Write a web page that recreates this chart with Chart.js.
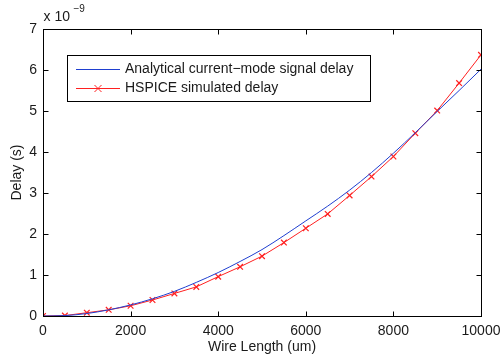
<!DOCTYPE html>
<html>
<head>
<meta charset="utf-8">
<script src="https://cdn.jsdelivr.net/npm/chart.js@4/dist/chart.umd.min.js"></script>
<style>
  html, body { margin: 0; padding: 0; background: #fff; }
  canvas { display: block; }
</style>
</head>
<body>
<canvas id="delayChart" width="503" height="358"></canvas>
<script>
// wire length samples (um)
const wireLength = [0, 500, 1000, 1500, 2000, 2500, 3000, 3500, 4000, 4500, 5000,
                    5500, 6000, 6500, 7000, 7500, 8000, 8500, 9000, 9500, 10000];
// delay values in units of 1e-9 s
const analyticalDelay = [0, 0.01, 0.06, 0.15, 0.27, 0.42, 0.60, 0.82, 1.06, 1.33, 1.62,
                         1.96, 2.32, 2.68, 3.07, 3.50, 3.97, 4.47, 4.99, 5.50, 6.02];
const hspiceDelay = [0, 0.01, 0.08, 0.15, 0.25, 0.39, 0.55, 0.71, 0.96, 1.20, 1.46,
                     1.79, 2.14, 2.49, 2.94, 3.40, 3.89, 4.46, 5.01, 5.68, 6.37];
const seriesLabels = ['Analytical current\u2212mode signal delay', 'HSPICE simulated delay'];
const xTicks = [0, 2000, 4000, 6000, 8000, 10000];
const yTicks = [0, 1, 2, 3, 4, 5, 6, 7];
const xTitle = 'Wire Length (um)';
const yTitle = 'Delay (s)';

const FONT = '"Liberation Sans", Arial, Helvetica, sans-serif';
const TEXT = '#1a1a1a';

// MATLAB-style box with inward ticks, exponent label, axis titles and legend
const matlabFrame = {
    id: 'matlabFrame',
    afterDraw(chart) {
        const ctx = chart.ctx;
        const { left, right, top, bottom } = chart.chartArea;
        const xs = chart.scales.x;
        const ys = chart.scales.y;
        const L = Math.round(left) + 0.5, R = Math.round(right) + 0.5;
        const T = Math.round(top) + 0.5, B = Math.round(bottom) + 0.5;
        const tick = 5;

        ctx.save();
        ctx.strokeStyle = '#000';
        ctx.lineWidth = 1;
        ctx.strokeRect(L, T, R - L, B - T);

        ctx.beginPath();
        xTicks.forEach(v => {
            const px = Math.round(xs.getPixelForValue(v)) + 0.5;
            ctx.moveTo(px, B); ctx.lineTo(px, B - tick);
            ctx.moveTo(px, T); ctx.lineTo(px, T + tick);
        });
        yTicks.forEach(v => {
            const py = Math.round(ys.getPixelForValue(v)) + 0.5;
            ctx.moveTo(L, py); ctx.lineTo(L + tick, py);
            ctx.moveTo(R, py); ctx.lineTo(R - tick, py);
        });
        ctx.stroke();

        // exponent
        ctx.fillStyle = TEXT;
        ctx.textBaseline = 'alphabetic';
        ctx.textAlign = 'left';
        ctx.font = '14px ' + FONT;
        ctx.fillText('x 10', L, 21);
        ctx.font = '10px ' + FONT;
        ctx.fillText('\u22129', L + 30, 12);

        // axis titles
        ctx.font = '14px ' + FONT;
        ctx.textAlign = 'center';
        ctx.textBaseline = 'middle';
        ctx.fillText(xTitle, (left + right) / 2, 347);
        ctx.save();
        ctx.translate(17, (top + bottom) / 2);
        ctx.rotate(-Math.PI / 2);
        ctx.fillText(yTitle, 0, 0);
        ctx.restore();

        // legend
        const box = { x: 67.5, y: 55.5, w: 303, h: 46 };
        ctx.fillStyle = '#fff';
        ctx.fillRect(box.x, box.y, box.w, box.h);
        ctx.strokeStyle = '#000';
        ctx.strokeRect(box.x, box.y, box.w, box.h);
        const rows = [box.y + 13, box.y + 32];
        chart.data.datasets.forEach((ds, i) => {
            const y = Math.round(rows[i]) + 0.5;
            ctx.strokeStyle = ds.borderColor;
            ctx.lineWidth = 1;
            ctx.beginPath();
            ctx.moveTo(76, y); ctx.lineTo(120, y);
            ctx.stroke();
            if (ds.pointStyle === 'crossRot') {
                const cx = 98, r = 3.5;
                ctx.beginPath();
                ctx.moveTo(cx - r, y - r); ctx.lineTo(cx + r, y + r);
                ctx.moveTo(cx - r, y + r); ctx.lineTo(cx + r, y - r);
                ctx.stroke();
            }
            ctx.fillStyle = TEXT;
            ctx.textAlign = 'left';
            ctx.textBaseline = 'middle';
            ctx.fillText(ds.label, 125, y);
        });
        ctx.restore();
    }
};

new Chart(document.getElementById('delayChart'), {
    type: 'line',
    data: {
        datasets: [{
            label: seriesLabels[0],
            data: wireLength.map((x, i) => ({ x: x, y: analyticalDelay[i] })),
            borderColor: '#1f3fd0',
            borderWidth: 1,
            pointRadius: 0,
            cubicInterpolationMode: 'monotone',
            pointStyle: 'line'
        }, {
            label: seriesLabels[1],
            data: wireLength.map((x, i) => ({ x: x, y: hspiceDelay[i] })),
            borderColor: '#ff2020',
            backgroundColor: '#ff2020',
            borderWidth: 1,
            tension: 0,
            pointStyle: 'crossRot',
            pointRadius: 4,
            pointBorderWidth: 1.2
        }]
    },
    options: {
        responsive: false,
        animation: false,
        layout: { padding: { top: 29, right: 22, left: 0, bottom: 0 } },
        plugins: {
            legend: { display: false },
            tooltip: { enabled: false }
        },
        scales: {
            x: {
                type: 'linear',
                min: 0,
                max: 10000,
                grid: { display: false, drawTicks: false },
                border: { display: false },
                afterBuildTicks: scale => { scale.ticks = xTicks.map(v => ({ value: v })); },
                afterFit: scale => {
                    scale.height = 42;
                    scale.paddingLeft = 0;
                    scale.paddingRight = 0;
                },
                ticks: {
                    padding: 7,
                    maxRotation: 0,
                    color: TEXT,
                    font: { family: FONT, size: 14 },
                    callback: v => String(v)
                }
            },
            y: {
                min: 0,
                max: 7,
                grid: { display: false, drawTicks: false },
                border: { display: false },
                afterBuildTicks: scale => { scale.ticks = yTicks.map(v => ({ value: v })); },
                afterFit: scale => {
                    scale.width = 43;
                    scale.paddingTop = 0;
                    scale.paddingBottom = 0;
                },
                ticks: {
                    padding: 6,
                    color: TEXT,
                    font: { family: FONT, size: 14 },
                    callback: v => String(v)
                }
            }
        }
    },
    plugins: [matlabFrame]
});
</script>
</body>
</html>
